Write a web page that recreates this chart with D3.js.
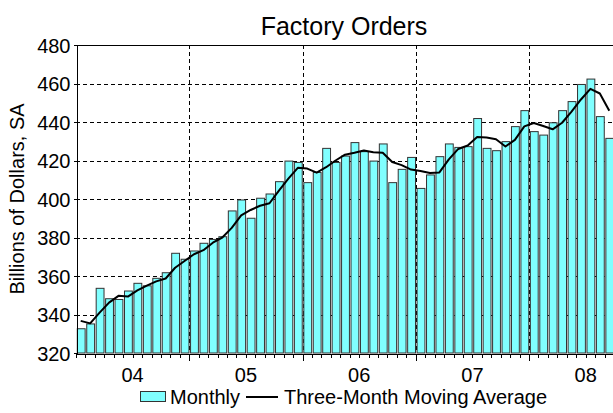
<!DOCTYPE html>
<html>
<head>
<meta charset="utf-8">
<script src="https://cdn.jsdelivr.net/npm/d3@7"></script>
<style>
  body { margin: 0; background: #fff; }
  svg text { font-family: "Liberation Sans", Arial, sans-serif; fill: #000; }
  .grid line { stroke: #000; stroke-width: 1; stroke-dasharray: 4,3; }
  .axis path, .axis line { stroke: #000; shape-rendering: crispEdges; }
  .bar { fill: #80ffff; stroke: #333; stroke-width: 1; }
</style>
</head>
<body>
<div id="chart"></div>
<script>

// monthly factory orders, Jan 2004 - Sep 2008 (billions of dollars, SA)
var monthly = [
  332.6, 335.1, 353.6, 348.2, 347.8, 352.2, 356.2, 354.9, 358.8, 361.7, 371.8, 368.7,
  373.0, 377.0, 379.0, 380.4, 393.8, 399.5, 390.0, 400.4, 402.6, 409.0, 419.7, 419.0,
  408.5, 413.8, 426.3, 419.0, 422.3, 429.3, 424.6, 419.7, 428.6, 408.5, 415.4, 421.6,
  405.5, 412.5, 422.0, 428.6, 426.8, 427.2, 441.8, 426.3, 425.1, 429.8, 437.6, 445.9,
  435.0, 433.2, 439.6, 445.9, 450.6, 459.5, 462.3, 442.8, 431.5
];

// three-month moving average
var movingAvg = [
  336.7, 335.4, 341.0, 346.2, 349.7, 349.3, 352.5, 355.0, 357.2, 358.7, 364.3, 367.8,
  371.3, 373.4, 377.3, 380.0, 385.0, 391.5, 394.3, 396.5, 397.8, 404.4, 410.6, 416.2,
  415.8, 413.7, 416.5, 420.0, 423.0, 424.0, 425.2, 424.3, 424.0, 419.2, 417.6, 415.3,
  414.5, 413.5, 413.8, 420.6, 426.0, 427.8, 432.2, 431.9, 431.0, 427.3, 430.7, 437.7,
  439.5, 437.9, 436.2, 439.6, 445.4, 451.7, 457.2, 454.8, 445.8
];

var yearLabels = ["04", "05", "06", "07", "08"];
var yTicks = [320, 340, 360, 380, 400, 420, 440, 460, 480];

var W = 613, H = 413;
var mLeft = 76, mRight = 614, mTop = 45, mBottom = 353;

var svg = d3.select("#chart").append("svg")
    .attr("width", W)
    .attr("height", H)

var x = d3.scaleLinear().domain([0, 57]).range([mLeft, mRight]);
var y = d3.scaleLinear().domain([320, 480]).range([mBottom, mTop]);

// title
svg.append("text")
    .attr("x", 344)
    .attr("y", 35)
    .attr("text-anchor", "middle")
    .style("font-size", "25px")
    .text("Factory Orders")

// y axis title
svg.append("text")
    .attr("transform", "translate(24," + ((mTop + mBottom) / 2) + ") rotate(-90)")
    .attr("text-anchor", "middle")
    .style("font-size", "20px")
    .text("Billions of Dollars, SA")

// grid
var grid = svg.append("g").attr("class", "grid")

grid.selectAll(".hgrid")
    .data(yTicks.slice(1))
    .enter().append("line")
    .attr("x1", mLeft).attr("x2", W)
    .attr("y1", function (d) { return Math.round(y(d)) + 0.5; })
    .attr("y2", function (d) { return Math.round(y(d)) + 0.5; })

grid.selectAll(".vgrid")
    .data([12, 24, 36, 48])
    .enter().append("line")
    .attr("x1", function (d) { return Math.round(x(d)) + 0.5; })
    .attr("x2", function (d) { return Math.round(x(d)) + 0.5; })
    .attr("y1", mTop).attr("y2", mBottom)

// bars
svg.append("g")
    .selectAll(".bar")
    .data(monthly)
    .enter().append("rect")
    .attr("class", "bar")
    .attr("x", function (d, i) { return x(i) + 1.3; })
    .attr("width", function (d, i) { return x(i + 1) - x(i) - 1.6; })
    .attr("y", function (d) { return y(d); })
    .attr("height", function (d) { return mBottom - y(d); })

// moving average line
var line = d3.line()
    .x(function (d, i) { return x(i + 0.5); })
    .y(function (d) { return y(d); })

svg.append("path")
    .datum(movingAvg)
    .attr("d", line)
    .attr("fill", "none")
    .attr("stroke", "#000")
    .attr("stroke-width", 2)
    .attr("stroke-linejoin", "round")

// frame top
svg.append("line")
    .attr("x1", mLeft).attr("x2", W)
    .attr("y1", mTop + 0.5).attr("y2", mTop + 0.5)
    .attr("stroke", "#000")

// y axis
var yAxis = svg.append("g")
    .attr("class", "axis")
    .attr("transform", "translate(" + (mLeft + 0.5) + ",0)")
    .call(d3.axisLeft(y).tickValues(yTicks).tickSize(3).tickSizeOuter(0).tickPadding(3))

yAxis.selectAll("text").style("font-size", "20px").attr("dy", "0.36em")

// x axis - month ticks
svg.append("g")
    .attr("class", "axis")
    .attr("transform", "translate(0," + (mBottom + 0.5) + ")")
    .call(d3.axisBottom(x).tickValues(d3.range(0, 58)).tickSize(4).tickSizeOuter(0).tickFormat(""))

// year ticks
svg.append("g")
    .attr("class", "axis")
    .attr("transform", "translate(0," + (mBottom + 0.5) + ")")
    .call(d3.axisBottom(x).tickValues([12, 24, 36, 48]).tickSize(7).tickFormat(""))
    .select(".domain").remove()

svg.selectAll(".yearlabel")
    .data(yearLabels)
    .enter().append("text")
    .attr("x", function (d, i) { return x(6 + 12 * i); })
    .attr("y", 382)
    .attr("text-anchor", "middle")
    .style("font-size", "20px")
    .text(function (d) { return d; })

// legend
var legend = svg.append("g")

legend.append("rect")
    .attr("x", 140.5).attr("y", 391.5)
    .attr("width", 25).attr("height", 10)
    .attr("class", "bar")

legend.append("text")
    .attr("x", 170).attr("y", 404)
    .style("font-size", "20px")
    .text("Monthly")

legend.append("line")
    .attr("x1", 246).attr("x2", 278)
    .attr("y1", 397).attr("y2", 397)
    .attr("stroke", "#000")
    .attr("stroke-width", 2)

legend.append("text")
    .attr("x", 284).attr("y", 404)
    .style("font-size", "20px")
    .text("Three-Month Moving Average")

</script>
</body>
</html>
